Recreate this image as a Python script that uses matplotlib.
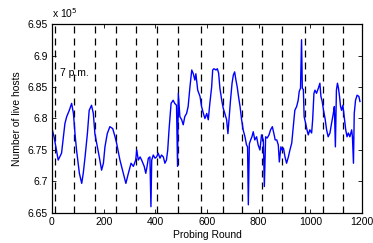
import matplotlib
matplotlib.use("Agg")
import matplotlib.pyplot as plt

plt.rcParams['font.family'] = ['Liberation Sans', 'DejaVu Sans']

# Probing rounds and live-host counts (x 10^5)
rounds = [0, 8, 24, 37, 50, 57, 67, 76, 83, 89, 95, 106, 115, 121, 128, 137, 144, 153, 160,
          166, 173, 183, 192, 199, 205, 214, 224, 235, 244, 250, 263, 273, 286, 295, 306,
          315, 324, 328, 334, 341, 347, 357, 363, 368, 373, 379, 383, 386, 392, 399, 405,
          411, 418, 424, 431, 437, 443, 448, 453, 461, 469, 475, 482, 486, 489, 495, 502,
          508, 514, 521, 527, 534, 541, 547, 553, 557, 564, 573, 579, 586, 592, 599, 605,
          611, 618, 622, 627, 635, 640, 645, 650, 657, 663, 669, 676, 681, 686, 691, 697,
          702, 707, 712, 717, 722, 728, 734, 740, 747, 753, 757, 760, 764, 769, 774, 779,
          785, 792, 798, 805, 811, 818, 822, 827, 833, 840, 846, 853, 859, 864, 870, 876,
          880, 886, 891, 896, 902, 908, 915, 921, 928, 934, 940, 947, 953, 957, 962, 966,
          969, 973, 976, 982, 987, 992, 998, 1005, 1009, 1014, 1018, 1024, 1031, 1037,
          1041, 1046, 1051, 1057, 1063, 1069, 1076, 1082, 1089, 1093, 1097, 1101, 1105,
          1109, 1113, 1117, 1121, 1126, 1131, 1137, 1142, 1147, 1153, 1160, 1163, 1167,
          1170, 1175, 1181, 1188, 1192]
hosts = [6.784, 6.771, 6.734, 6.745, 6.792, 6.803, 6.813, 6.824, 6.808, 6.776, 6.750,
         6.713, 6.697, 6.713, 6.739, 6.776, 6.813, 6.821, 6.808, 6.776, 6.761, 6.739,
         6.718, 6.729, 6.755, 6.776, 6.787, 6.784, 6.771, 6.761, 6.734, 6.718, 6.697,
         6.712, 6.729, 6.724, 6.734, 6.750, 6.734, 6.739, 6.734, 6.724, 6.713, 6.724,
         6.737, 6.739, 6.660, 6.734, 6.742, 6.737, 6.739, 6.745, 6.737, 6.742, 6.739,
         6.729, 6.734, 6.750, 6.782, 6.824, 6.829, 6.824, 6.821, 6.724, 6.840, 6.803,
         6.798, 6.790, 6.803, 6.808, 6.819, 6.850, 6.877, 6.871, 6.861, 6.871, 6.845,
         6.835, 6.819, 6.808, 6.800, 6.808, 6.798, 6.824, 6.850, 6.877, 6.879, 6.877,
         6.879, 6.872, 6.848, 6.829, 6.816, 6.808, 6.798, 6.776, 6.803, 6.829, 6.856,
         6.869, 6.874, 6.861, 6.850, 6.835, 6.819, 6.798, 6.782, 6.771, 6.758, 6.755,
         6.663, 6.760, 6.766, 6.771, 6.779, 6.766, 6.771, 6.758, 6.750, 6.774, 6.766,
         6.692, 6.771, 6.769, 6.774, 6.782, 6.787, 6.776, 6.766, 6.766, 6.758, 6.731,
         6.755, 6.750, 6.753, 6.739, 6.729, 6.739, 6.750, 6.761, 6.787, 6.813, 6.819,
         6.829, 6.843, 6.848, 6.925, 6.848, 6.846, 6.803, 6.792, 6.782, 6.774, 6.782,
         6.777, 6.798, 6.840, 6.845, 6.840, 6.848, 6.856, 6.835, 6.827, 6.813, 6.800,
         6.782, 6.771, 6.777, 6.792, 6.808, 6.819, 6.755, 6.845, 6.856, 6.848, 6.835,
         6.819, 6.813, 6.821, 6.803, 6.782, 6.771, 6.777, 6.771, 6.782, 6.771, 6.729,
         6.808, 6.829, 6.837, 6.835, 6.827]

# Day boundaries (7 p.m.) marked by dashed lines
day_marks = [12, 86, 168, 246, 326, 407, 486, 575, 661, 734, 811, 890, 978, 1048, 1126]

xticks = [0, 200, 400, 600, 800, 1000, 1200]
yticks = [6.65, 6.7, 6.75, 6.8, 6.85, 6.9, 6.95]
yticklabels = ['6.65', '6.7', '6.75', '6.8', '6.85', '6.9', '6.95']

fig = plt.figure(figsize=(3.73, 2.43), dpi=100)
ax = fig.add_axes([0.1394, 0.1235, 0.8311, 0.7777])

for xm in day_marks:
    ax.axvline(xm, color='black', linestyle=(0, (5.6, 4)), linewidth=0.9, zorder=1)

ax.plot(rounds, hosts, color='#0000ff', linewidth=1.0, zorder=2)

ax.set_xlim(0, 1200)
ax.set_ylim(6.65, 6.95)
ax.set_xticks(xticks)
ax.set_yticks(yticks)
ax.set_yticklabels(yticklabels)
ax.tick_params(direction='in', top=True, right=True, labelsize=7.5, length=3, width=0.6, pad=3)
for s in ax.spines.values():
    s.set_linewidth(0.9)

ax.set_xlabel('Probing Round', fontsize=7.5, labelpad=2)
ax.set_ylabel('Number of live hosts', fontsize=7.5, labelpad=4)

ax.text(31, 6.872, '7 p.m.', fontsize=7.5, ha='left', va='center')
ax.text(0, 1.02, r'x 10$^5$', transform=ax.transAxes, fontsize=7.5, ha='left', va='bottom')

fig.savefig('out.png', dpi=100)
